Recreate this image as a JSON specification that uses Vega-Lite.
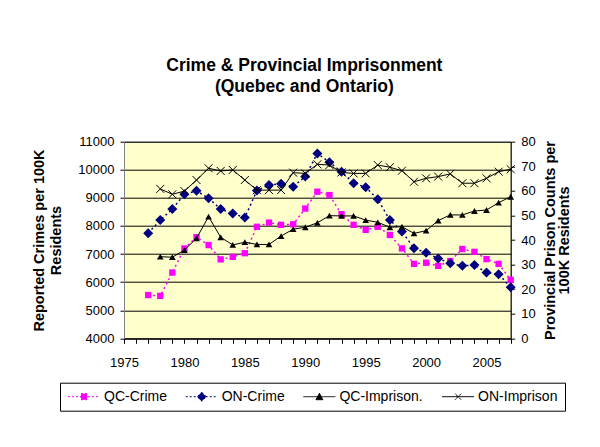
{
  "$schema": "https://vega.github.io/schema/vega-lite/v6.json",
  "width": 386.7,
  "height": 196.6,
  "autosize": {"type": "none"},
  "padding": {"left": 124, "top": 141.7, "right": 89.3, "bottom": 108.7},
  "background": "white",
  "title": {
    "text": ["Crime & Provincial Imprisonment", "(Quebec and Ontario)"],
    "font": "Liberation Sans",
    "fontSize": 17.5,
    "fontWeight": "bold",
    "color": "black",
    "anchor": "middle",
    "dx": -13,
    "offset": 40,
    "lineHeight": 21.7
  },
  "datasets": {
    "d": [
      {"year": 1977, "series": "QC-Crime", "value": 5540},
      {"year": 1978, "series": "QC-Crime", "value": 5510},
      {"year": 1979, "series": "QC-Crime", "value": 6340},
      {"year": 1980, "series": "QC-Crime", "value": 7200},
      {"year": 1981, "series": "QC-Crime", "value": 7600},
      {"year": 1982, "series": "QC-Crime", "value": 7320},
      {"year": 1983, "series": "QC-Crime", "value": 6810},
      {"year": 1984, "series": "QC-Crime", "value": 6900},
      {"year": 1985, "series": "QC-Crime", "value": 7030},
      {"year": 1986, "series": "QC-Crime", "value": 7970},
      {"year": 1987, "series": "QC-Crime", "value": 8120},
      {"year": 1988, "series": "QC-Crime", "value": 8040},
      {"year": 1989, "series": "QC-Crime", "value": 8060},
      {"year": 1990, "series": "QC-Crime", "value": 8620},
      {"year": 1991, "series": "QC-Crime", "value": 9220},
      {"year": 1992, "series": "QC-Crime", "value": 9100},
      {"year": 1993, "series": "QC-Crime", "value": 8420},
      {"year": 1994, "series": "QC-Crime", "value": 8040},
      {"year": 1995, "series": "QC-Crime", "value": 7860},
      {"year": 1996, "series": "QC-Crime", "value": 7970},
      {"year": 1997, "series": "QC-Crime", "value": 7680},
      {"year": 1998, "series": "QC-Crime", "value": 7200},
      {"year": 1999, "series": "QC-Crime", "value": 6650},
      {"year": 2000, "series": "QC-Crime", "value": 6690},
      {"year": 2001, "series": "QC-Crime", "value": 6580},
      {"year": 2002, "series": "QC-Crime", "value": 6750},
      {"year": 2003, "series": "QC-Crime", "value": 7180},
      {"year": 2004, "series": "QC-Crime", "value": 7080},
      {"year": 2005, "series": "QC-Crime", "value": 6820},
      {"year": 2006, "series": "QC-Crime", "value": 6650},
      {"year": 2007, "series": "QC-Crime", "value": 6080},
      {"year": 1977, "series": "ON-Crime", "value": 7740},
      {"year": 1978, "series": "ON-Crime", "value": 8210},
      {"year": 1979, "series": "ON-Crime", "value": 8600},
      {"year": 1980, "series": "ON-Crime", "value": 9130},
      {"year": 1981, "series": "ON-Crime", "value": 9250},
      {"year": 1982, "series": "ON-Crime", "value": 8990},
      {"year": 1983, "series": "ON-Crime", "value": 8600},
      {"year": 1984, "series": "ON-Crime", "value": 8440},
      {"year": 1985, "series": "ON-Crime", "value": 8300},
      {"year": 1986, "series": "ON-Crime", "value": 9260},
      {"year": 1987, "series": "ON-Crime", "value": 9460},
      {"year": 1988, "series": "ON-Crime", "value": 9500},
      {"year": 1989, "series": "ON-Crime", "value": 9400},
      {"year": 1990, "series": "ON-Crime", "value": 9760},
      {"year": 1991, "series": "ON-Crime", "value": 10580},
      {"year": 1992, "series": "ON-Crime", "value": 10270},
      {"year": 1993, "series": "ON-Crime", "value": 9930},
      {"year": 1994, "series": "ON-Crime", "value": 9520},
      {"year": 1995, "series": "ON-Crime", "value": 9380},
      {"year": 1996, "series": "ON-Crime", "value": 8950},
      {"year": 1997, "series": "ON-Crime", "value": 8210},
      {"year": 1998, "series": "ON-Crime", "value": 7800},
      {"year": 1999, "series": "ON-Crime", "value": 7210},
      {"year": 2000, "series": "ON-Crime", "value": 7050},
      {"year": 2001, "series": "ON-Crime", "value": 6840},
      {"year": 2002, "series": "ON-Crime", "value": 6670},
      {"year": 2003, "series": "ON-Crime", "value": 6580},
      {"year": 2004, "series": "ON-Crime", "value": 6610},
      {"year": 2005, "series": "ON-Crime", "value": 6340},
      {"year": 2006, "series": "ON-Crime", "value": 6280},
      {"year": 2007, "series": "ON-Crime", "value": 5820},
      {"year": 1978, "series": "QC-Imprison.", "value": 33.2},
      {"year": 1979, "series": "QC-Imprison.", "value": 33.0},
      {"year": 1980, "series": "QC-Imprison.", "value": 35.9},
      {"year": 1981, "series": "QC-Imprison.", "value": 40.7},
      {"year": 1982, "series": "QC-Imprison.", "value": 49.5},
      {"year": 1983, "series": "QC-Imprison.", "value": 41.1},
      {"year": 1984, "series": "QC-Imprison.", "value": 38.0},
      {"year": 1985, "series": "QC-Imprison.", "value": 39.1},
      {"year": 1986, "series": "QC-Imprison.", "value": 38.2},
      {"year": 1987, "series": "QC-Imprison.", "value": 38.2},
      {"year": 1988, "series": "QC-Imprison.", "value": 41.6},
      {"year": 1989, "series": "QC-Imprison.", "value": 44.4},
      {"year": 1990, "series": "QC-Imprison.", "value": 45.2},
      {"year": 1991, "series": "QC-Imprison.", "value": 47.0},
      {"year": 1992, "series": "QC-Imprison.", "value": 49.9},
      {"year": 1993, "series": "QC-Imprison.", "value": 49.8},
      {"year": 1994, "series": "QC-Imprison.", "value": 49.8},
      {"year": 1995, "series": "QC-Imprison.", "value": 48.1},
      {"year": 1996, "series": "QC-Imprison.", "value": 47.2},
      {"year": 1997, "series": "QC-Imprison.", "value": 45.2},
      {"year": 1998, "series": "QC-Imprison.", "value": 45.4},
      {"year": 1999, "series": "QC-Imprison.", "value": 42.7},
      {"year": 2000, "series": "QC-Imprison.", "value": 43.8},
      {"year": 2001, "series": "QC-Imprison.", "value": 47.9},
      {"year": 2002, "series": "QC-Imprison.", "value": 50.2},
      {"year": 2003, "series": "QC-Imprison.", "value": 50.2},
      {"year": 2004, "series": "QC-Imprison.", "value": 51.8},
      {"year": 2005, "series": "QC-Imprison.", "value": 52.2},
      {"year": 2006, "series": "QC-Imprison.", "value": 55.2},
      {"year": 2007, "series": "QC-Imprison.", "value": 57.6},
      {"year": 1978, "series": "ON-Imprison", "value": 60.8},
      {"year": 1979, "series": "ON-Imprison", "value": 58.6},
      {"year": 1980, "series": "ON-Imprison", "value": 59.9},
      {"year": 1981, "series": "ON-Imprison", "value": 64.4},
      {"year": 1982, "series": "ON-Imprison", "value": 69.2},
      {"year": 1983, "series": "ON-Imprison", "value": 68.1},
      {"year": 1984, "series": "ON-Imprison", "value": 68.5},
      {"year": 1985, "series": "ON-Imprison", "value": 64.4},
      {"year": 1986, "series": "ON-Imprison", "value": 60.3},
      {"year": 1987, "series": "ON-Imprison", "value": 60.3},
      {"year": 1988, "series": "ON-Imprison", "value": 60.3},
      {"year": 1989, "series": "ON-Imprison", "value": 67.4},
      {"year": 1990, "series": "ON-Imprison", "value": 67.1},
      {"year": 1991, "series": "ON-Imprison", "value": 70.8},
      {"year": 1992, "series": "ON-Imprison", "value": 70.5},
      {"year": 1993, "series": "ON-Imprison", "value": 67.5},
      {"year": 1994, "series": "ON-Imprison", "value": 67.1},
      {"year": 1995, "series": "ON-Imprison", "value": 67.1},
      {"year": 1996, "series": "ON-Imprison", "value": 70.5},
      {"year": 1997, "series": "ON-Imprison", "value": 69.6},
      {"year": 1998, "series": "ON-Imprison", "value": 68.2},
      {"year": 1999, "series": "ON-Imprison", "value": 63.7},
      {"year": 2000, "series": "ON-Imprison", "value": 65.1},
      {"year": 2001, "series": "ON-Imprison", "value": 65.8},
      {"year": 2002, "series": "ON-Imprison", "value": 66.9},
      {"year": 2003, "series": "ON-Imprison", "value": 63.1},
      {"year": 2004, "series": "ON-Imprison", "value": 63.1},
      {"year": 2005, "series": "ON-Imprison", "value": 65.1},
      {"year": 2006, "series": "ON-Imprison", "value": 67.8},
      {"year": 2007, "series": "ON-Imprison", "value": 68.8}
    ]
  },
  "data": {"name": "d"},
  "encoding": {
    "x": {
      "field": "year",
      "type": "quantitative",
      "scale": {"domain": [1975, 2007], "nice": false, "zero": false},
      "axis": {
        "title": null,
        "tickCount": 32,
        "format": "d",
        "labelExpr": "datum.value % 5 === 0 ? datum.label : ''",
        "labelOverlap": false,
        "labelFlush": false,
        "grid": false,
        "tickSize": 5,
        "labelPadding": 13,
        "labelFontSize": 13
      }
    }
  },
  "layer": [
    {
      "encoding": {
        "y": {
          "field": "value",
          "type": "quantitative",
          "scale": {"domain": [4000, 11000], "nice": false, "zero": false},
          "axis": {
            "orient": "left",
            "title": ["Reported Crimes per 100K", "Residents"],
            "titleFontSize": 14.5,
            "titleFontWeight": "bold",
            "titlePadding": 14,
            "titleLineHeight": 17,
            "tickCount": 7,
            "format": "d",
            "labelFontSize": 13,
            "tickSize": 4,
            "labelPadding": 6,
            "grid": true,
            "gridColor": "black",
            "gridOpacity": 1,
            "domainColor": "#808080"
          }
        }
      },
      "layer": [
        {
          "transform": [{"filter": {"field": "series", "oneOf": ["QC-Crime", "ON-Crime"]}}],
          "mark": {"type": "line", "strokeDash": [2, 3], "strokeWidth": 1.5},
          "encoding": {
            "color": {
              "field": "series",
              "type": "nominal",
              "scale": {"domain": ["QC-Crime", "ON-Crime", "QC-Imprison.", "ON-Imprison"], "range": ["#FF00FF", "#000080", "#000000", "#000000"]},
              "legend": {
                "orient": "none",
                "legendX": -64,
                "legendY": 241,
                "direction": "horizontal",
                "columns": 4,
                "title": null,
                "strokeColor": "black",
                "padding": 7,
                "labelFontSize": 14,
                "labelColor": "black",
                "symbolSize": 144,
                "labelOffset": 23,
                "columnPadding": 16.7,
                "encode": {
                  "symbols": {
                    "update": {
                      "shape": {"signal": "datum.value === 'QC-Crime' ? 'M-1,0H4.33M1.17,-0.5H2.17V0.5H1.17Z' : datum.value === 'ON-Crime' ? 'M-1,0H4.33M1.67,-0.75L2.42,0L1.67,0.75L0.92,0Z' : datum.value === 'QC-Imprison.' ? 'M-1,0H4.33M1.67,-0.58L2.25,0.5L1.09,0.5Z' : 'M-1,0H4.33M1.17,-0.5L2.17,0.5M1.17,0.5L2.17,-0.5'"},
                      "fill": {"signal": "datum.value === 'QC-Crime' ? '#FF00FF' : datum.value === 'ON-Crime' ? '#000080' : datum.value === 'QC-Imprison.' ? '#000000' : 'transparent'"},
                      "stroke": {"signal": "datum.value === 'QC-Crime' ? '#FF00FF' : datum.value === 'ON-Crime' ? '#000080' : '#000000'"},
                      "strokeDash": {"signal": "datum.value === 'QC-Crime' || datum.value === 'ON-Crime' ? [2, 2] : [1, 0]"},
                      "strokeWidth": {"value": 1},
                      "opacity": {"value": 1},
                      "fillOpacity": {"value": 1}
                    }
                  }
                }
              }
            }
          }
        },
        {
          "transform": [{"filter": {"field": "series", "equal": "QC-Crime"}}],
          "mark": {"type": "point", "shape": "square", "filled": true, "size": 40, "color": "#FF00FF", "opacity": 1}
        },
        {
          "transform": [{"filter": {"field": "series", "equal": "ON-Crime"}}],
          "mark": {"type": "point", "shape": "diamond", "filled": true, "size": 100, "color": "#000080", "opacity": 1}
        }
      ]
    },
    {
      "encoding": {
        "y": {
          "field": "value",
          "type": "quantitative",
          "scale": {"domain": [0, 80], "nice": false},
          "axis": {
            "orient": "right",
            "title": ["Provincial Prison Counts per", "100K Residents"],
            "titleFontSize": 14.5,
            "titleFontWeight": "bold",
            "titleAngle": 270,
            "titleBaseline": "top",
            "titlePadding": -6,
            "titleLineHeight": 14,
            "tickCount": 8,
            "format": "d",
            "labelFontSize": 13,
            "tickSize": 4,
            "labelPadding": 6,
            "grid": false
          }
        }
      },
      "layer": [
        {
          "transform": [{"filter": {"field": "series", "oneOf": ["QC-Imprison.", "ON-Imprison"]}}],
          "mark": {"type": "line", "strokeWidth": 1},
          "encoding": {
            "color": {
              "field": "series",
              "type": "nominal",
              "scale": {"domain": ["QC-Crime", "ON-Crime", "QC-Imprison.", "ON-Imprison"], "range": ["#FF00FF", "#000080", "#000000", "#000000"]},
              "legend": {
                "orient": "none",
                "legendX": -64,
                "legendY": 241,
                "direction": "horizontal",
                "columns": 4,
                "title": null,
                "strokeColor": "black",
                "padding": 7,
                "labelFontSize": 14,
                "labelColor": "black",
                "symbolSize": 144,
                "labelOffset": 23,
                "columnPadding": 16.7,
                "encode": {
                  "symbols": {
                    "update": {
                      "shape": {"signal": "datum.value === 'QC-Crime' ? 'M-1,0H4.33M1.17,-0.5H2.17V0.5H1.17Z' : datum.value === 'ON-Crime' ? 'M-1,0H4.33M1.67,-0.75L2.42,0L1.67,0.75L0.92,0Z' : datum.value === 'QC-Imprison.' ? 'M-1,0H4.33M1.67,-0.58L2.25,0.5L1.09,0.5Z' : 'M-1,0H4.33M1.17,-0.5L2.17,0.5M1.17,0.5L2.17,-0.5'"},
                      "fill": {"signal": "datum.value === 'QC-Crime' ? '#FF00FF' : datum.value === 'ON-Crime' ? '#000080' : datum.value === 'QC-Imprison.' ? '#000000' : 'transparent'"},
                      "stroke": {"signal": "datum.value === 'QC-Crime' ? '#FF00FF' : datum.value === 'ON-Crime' ? '#000080' : '#000000'"},
                      "strokeDash": {"signal": "datum.value === 'QC-Crime' || datum.value === 'ON-Crime' ? [2, 2] : [1, 0]"},
                      "strokeWidth": {"value": 1},
                      "opacity": {"value": 1},
                      "fillOpacity": {"value": 1}
                    }
                  }
                }
              }
            }
          }
        },
        {
          "transform": [{"filter": {"field": "series", "equal": "QC-Imprison."}}],
          "mark": {"type": "point", "shape": "triangle-up", "filled": true, "size": 45, "color": "#000000", "opacity": 1}
        },
        {
          "transform": [{"filter": {"field": "series", "equal": "ON-Imprison"}}],
          "mark": {"type": "point", "shape": "M-1,-1L1,1M-1,1L1,-1", "filled": false, "size": 64, "color": "#000000", "strokeWidth": 1, "opacity": 1}
        }
      ]
    }
  ],
  "resolve": {"scale": {"y": "independent"}},
  "config": {
    "font": "Liberation Sans",
    "view": {"fill": "#FFFFCC", "stroke": "#808080"},
    "axis": {
      "labelFont": "Liberation Sans",
      "titleFont": "Liberation Sans",
      "labelColor": "black",
      "titleColor": "black",
      "tickColor": "black",
      "domainColor": "black"
    },
    "legend": {"labelFont": "Liberation Sans"}
  }
}
